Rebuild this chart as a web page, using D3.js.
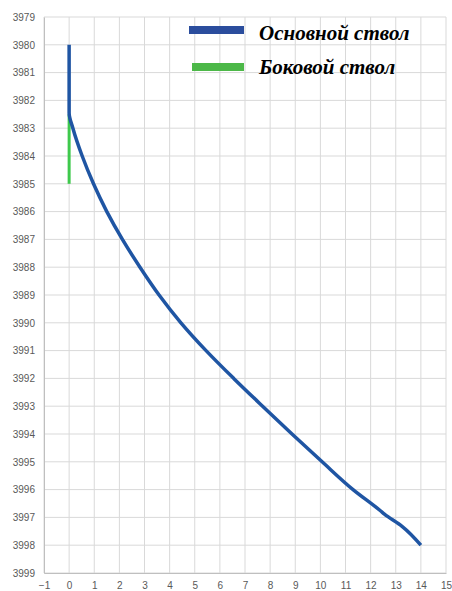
<!DOCTYPE html>
<html>
<head>
<meta charset="utf-8">
<script src="https://cdn.jsdelivr.net/npm/d3@7"></script>
<style>
  body { margin: 0; background: #fff; }
  .tick text { font-family: "Liberation Sans", Arial, sans-serif; font-size: 10px; fill: #595959; }
  .legend text { font-family: "Liberation Serif", "Times New Roman", serif; font-size: 21px; font-weight: bold; font-style: italic; fill: #000; }
</style>
</head>
<body>
<script>
// Horizontal offset (x) vs depth (y) for the main trunk
var mainX = [0, 0, 0.15, 0.52, 0.97, 1.5, 2.12, 2.82, 3.58, 4.45, 5.45, 6.55, 7.7, 8.87, 10.07, 11.3, 12.39, 12.55, 13.25, 14];
var mainY = [3980, 3982.45, 3983, 3984, 3985, 3986, 3987, 3988, 3989, 3990, 3991, 3992, 3993, 3994, 3995, 3996, 3996.76, 3996.88, 3997.32, 3998];

// Side trunk
var sideX = [0, 0];
var sideY = [3982.5, 3985];

var seriesNames = ["Основной ствол", "Боковой ствол"];
var seriesColors = ["#1f55a3", "#3ec94c"];
var legendColors = ["#2b4d9d", "#4cb848"];

var xTicks = d3.range(-1, 16);
var yTicks = d3.range(3979, 4000);

var width = 452,
    height = 591;

var svg = d3.select("body")
    .append("svg")
    .attr("width", width)
    .attr("height", height);

// Plot area
var x = d3.scaleLinear().domain([-1, 15]).range([44, 446]);
var y = d3.scaleLinear().domain([3979, 3999]).range([17, 573]);

// Grid lines
svg.append("g")
    .selectAll("line")
    .data(xTicks)
    .enter()
    .append("line")
    .attr("x1", function(d){ return x(d); })
    .attr("x2", function(d){ return x(d); })
    .attr("y1", y(3979))
    .attr("y2", y(3999))
    .attr("stroke", "#d9d9d9")
    .attr("stroke-width", 1);

svg.append("g")
    .selectAll("line")
    .data(yTicks)
    .enter()
    .append("line")
    .attr("x1", x(-1))
    .attr("x2", x(15))
    .attr("y1", function(d){ return y(d); })
    .attr("y2", function(d){ return y(d); })
    .attr("stroke", "#d9d9d9")
    .attr("stroke-width", 1);

// Axes
var yAxis = svg.append("g")
    .attr("transform", "translate(" + x(-1) + ",0)")
    .call(d3.axisLeft(y).tickValues(yTicks).tickFormat(d3.format("d")).tickSize(0).tickPadding(9));
yAxis.select(".domain").attr("stroke", "#bfbfbf");

var xAxis = svg.append("g")
    .attr("transform", "translate(0," + y(3999) + ")")
    .call(d3.axisBottom(x).tickValues(xTicks).tickFormat(d3.format("d")).tickSize(0).tickPadding(9));
xAxis.select(".domain").attr("stroke", "#bfbfbf");

// Lines
var line = d3.line()
    .x(function(d){ return x(d[0]); })
    .y(function(d){ return y(d[1]); })
    .curve(d3.curveMonotoneY);

svg.append("path")
    .datum(d3.zip(sideX, sideY))
    .attr("fill", "none")
    .attr("stroke", seriesColors[1])
    .attr("stroke-width", 3)
    .attr("d", line);

svg.append("path")
    .datum(d3.zip(mainX, mainY))
    .attr("fill", "none")
    .attr("stroke", seriesColors[0])
    .attr("stroke-width", 3.5)
    .attr("stroke-linejoin", "round")
    .attr("d", line);

// Legend
var legend = svg.append("g").attr("class", "legend");
var items = legend.selectAll("g")
    .data(seriesNames)
    .enter()
    .append("g")
    .attr("transform", function(d, i){ return "translate(0," + (i * 34) + ")"; });

items.append("rect")
    .attr("x", function(d, i){ return i === 0 ? 189 : 192; })
    .attr("y", function(d, i){ return i === 0 ? 26 : 29; })
    .attr("width", function(d, i){ return i === 0 ? 55 : 52; })
    .attr("height", 8)
    .attr("fill", function(d, i){ return legendColors[i]; });

items.append("text")
    .attr("x", 259)
    .attr("y", 40)
    .text(function(d){ return d; });
</script>
</body>
</html>
